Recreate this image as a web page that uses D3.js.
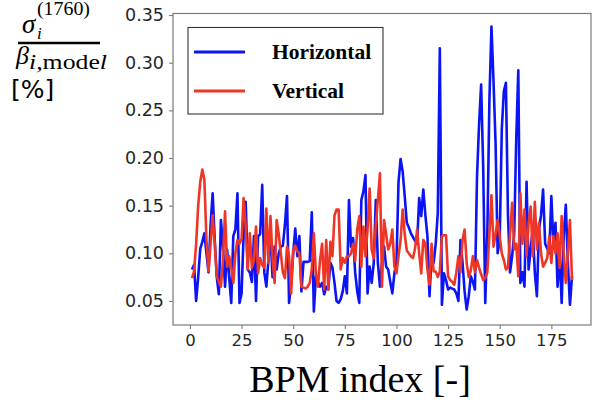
<!DOCTYPE html>
<html>
<head>
<meta charset="utf-8">
<script src="https://cdn.jsdelivr.net/npm/d3@7"></script>
<style>
  body { margin: 0; background: #fff; }
  svg { display: block; }
</style>
</head>
<body>
<div id="content"></div>
<script>
// values, one per BPM (index 1..185)
var horizontal = [
  .083, .088, .050, .075, .105, .112, .121, .100, .080, .130,
  .163, .115, .075, .057, .135, .107, .065, .104, .075, .048,
  .118, .125, .163, .048, .058, .120, .154, .083, .080, .070,
  .118, .050, .118, .120, .172, .080, .065, .093, .120, .075,
  .107, .083, .100, .107, .108, .130, .160, .048, .068, .100,
  .126, .097, .118, .060, .091, .091, .091, .092, .143, .039,
  .076, .070, .065, .069, .057, .065, .062, .090, .085, .069,
  .050, .048, .052, .060, .076, .058, .156, .107, .116, .080,
  .060, .048, .156, .165, .182, .058, .086, .069, .090, .156,
  .090, .065, .090, .107, .086, .083, .070, .058, .079, .090,
  .175, .199, .186, .160, .132, .127, .121, .117, .113, .110,
  .158, .139, .167, .140, .118, .055, .097, .090, .110, .142,
  .315, .046, .079, .072, .062, .064, .063, .062, .058, .050,
  .114, .090, .060, .041, .055, .076, .070, .062, .180, .235,
  .277, .190, .048, .120, .260, .338, .280, .215, .100, .114,
  .230, .270, .279, .140, .080, .097, .120, .220, .292, .069,
  .080, .065, .175, .083, .105, .125, .080, .055, .125, .140,
  .167, .110, .105, .100, .160, .110, .132, .065, .100, .048,
  .118, .151, .090, .046, .076
];

var vertical = [
  .074, .081, .110, .150, .175, .188, .177, .114, .081, .110,
  .140, .110, .076, .070, .065, .093, .144, .086, .097, .085,
  .069, .100, .114, .110, .115, .158, .128, .083, .121, .085,
  .093, .128, .079, .095, .088, .085, .147, .090, .139, .095,
  .069, .135, .120, .100, .080, .074, .107, .097, .058, .104,
  .108, .102, .100, .065, .064, .063, .065, .069, .083, .121,
  .079, .065, .093, .110, .062, .114, .062, .112, .097, .140,
  .146, .146, .083, .095, .090, .097, .097, .100, .110, .092,
  .125, .139, .086, .128, .097, .125, .168, .104, .095, .130,
  .156, .184, .065, .135, .120, .104, .110, .125, .086, .079,
  .097, .114, .146, .120, .103, .100, .097, .095, .105, .125,
  .100, .079, .114, .110, .083, .067, .110, .081, .081, .075,
  .081, .118, .119, .119, .076, .072, .070, .067, .080, .097,
  .080, .114, .125, .090, .075, .082, .097, .080, .093, .085,
  .078, .072, .074, .080, .120, .161, .107, .120, .135, .118,
  .100, .093, .083, .085, .120, .153, .104, .110, .076, .163,
  .110, .146, .097, .132, .149, .097, .154, .104, .132, .100,
  .086, .090, .095, .118, .090, .118, .100, .121, .085, .139,
  .100, .069, .100, .135, .072
];

var bpmIndex = d3.range(1, horizontal.length + 1);
var xTicks = [0, 25, 50, 75, 100, 125, 150, 175];
var yTicks = [0.05, 0.10, 0.15, 0.20, 0.25, 0.30, 0.35];
var seriesNames = ["Horizontal", "Vertical"];
var seriesColors = ["#0a14f5", "#ee3526"];

var W = 593, H = 400;
var margin = {top: 13.5, right: 2, bottom: 75, left: 173},
  width = W - margin.left - margin.right,
  height = H - margin.top - margin.bottom;

var x = d3.scaleLinear().domain([-8.2, 194.2]).range([0, width]);
var y = d3.scaleLinear().domain([0.0248, 0.3516]).range([height, 0]);

var svg = d3.select("#content").append("svg")
  .attr("width", W)
  .attr("height", H);

var g = svg.append("g")
  .attr("transform", "translate(" + margin.left + "," + margin.top + ")");

var line = d3.line()
  .x(function(d, i) { return x(bpmIndex[i]); })
  .y(function(d) { return y(d); });

[horizontal, vertical].forEach(function(s, k) {
  g.append("path")
    .datum(s)
    .attr("fill", "none")
    .attr("stroke", seriesColors[k])
    .attr("stroke-width", 2.6)
    .attr("stroke-linejoin", "round")
    .attr("d", line);
});

// frame
g.append("rect")
  .attr("width", width)
  .attr("height", height)
  .attr("fill", "none")
  .attr("stroke", "#7a7a7a")
  .attr("stroke-width", 1.2);

var xAxis = g.append("g")
  .attr("transform", "translate(0," + height + ")")
  .call(d3.axisBottom(x).tickValues(xTicks).tickSize(4).tickPadding(5).tickFormat(d3.format("d")));
var yAxis = g.append("g")
  .call(d3.axisLeft(y).tickValues(yTicks).tickSize(4).tickPadding(5).tickFormat(d3.format(".2f")));

[xAxis, yAxis].forEach(function(a) {
  a.select(".domain").remove();
  a.selectAll(".tick line").attr("stroke", "#7a7a7a").attr("stroke-width", 1.1);
  a.selectAll(".tick text")
    .attr("fill", "#262626")
    .style("font-family", "DejaVu Sans")
    .style("font-size", "16.5px");
});
yAxis.selectAll(".tick text").style("font-size", "17.5px");

// legend
var leg = svg.append("g");
leg.append("rect")
  .attr("x", 188).attr("y", 27.5)
  .attr("width", 195).attr("height", 86.5)
  .attr("fill", "#fff")
  .attr("stroke", "#333")
  .attr("stroke-width", 1.1);
seriesNames.forEach(function(n, k) {
  var ly = 52 + k * 39;
  leg.append("line")
    .attr("x1", 194).attr("x2", 245)
    .attr("y1", ly).attr("y2", ly)
    .attr("stroke", seriesColors[k])
    .attr("stroke-width", 3);
  leg.append("text")
    .attr("x", 272).attr("y", ly + 7)
    .style("font-family", "Liberation Serif")
    .style("font-weight", "bold")
    .style("font-size", "21.5px")
    .text(n);
});

// x label
svg.append("text")
  .attr("x", 360).attr("y", 392)
  .attr("text-anchor", "middle")
  .style("font-family", "Liberation Serif")
  .style("font-size", "38px")
  .text("BPM index [-]");

// y label (fraction)
var yl = svg.append("g").style("font-family", "Liberation Serif");
yl.append("text").attr("x", 22).attr("y", 33)
  .style("font-style", "italic").style("font-size", "27px").text("σ");
yl.append("text").attr("x", 37).attr("y", 39)
  .style("font-style", "italic").style("font-size", "17px").text("i");
yl.append("text").attr("x", 37).attr("y", 15)
  .attr("textLength", 53).attr("lengthAdjust", "spacingAndGlyphs")
  .style("font-size", "18px").text("(1760)");
yl.append("line")
  .attr("x1", 18).attr("x2", 100).attr("y1", 43).attr("y2", 43)
  .attr("stroke", "#000").attr("stroke-width", 2.6);
yl.append("text").attr("x", 16).attr("y", 64)
  .style("font-style", "italic").style("font-size", "26px").text("β");
var sub = yl.append("text").attr("x", 29).attr("y", 69)
  .attr("textLength", 78).attr("lengthAdjust", "spacingAndGlyphs")
  .style("font-size", "20px");
sub.append("tspan").style("font-style", "italic").text("i,");
sub.append("tspan").text("mode");
sub.append("tspan").style("font-style", "italic").text("l");
svg.append("text").attr("x", 11).attr("y", 98)
  .style("font-family", "DejaVu Sans")
  .style("font-size", "25px")
  .text("[%]");
</script>
</body>
</html>
